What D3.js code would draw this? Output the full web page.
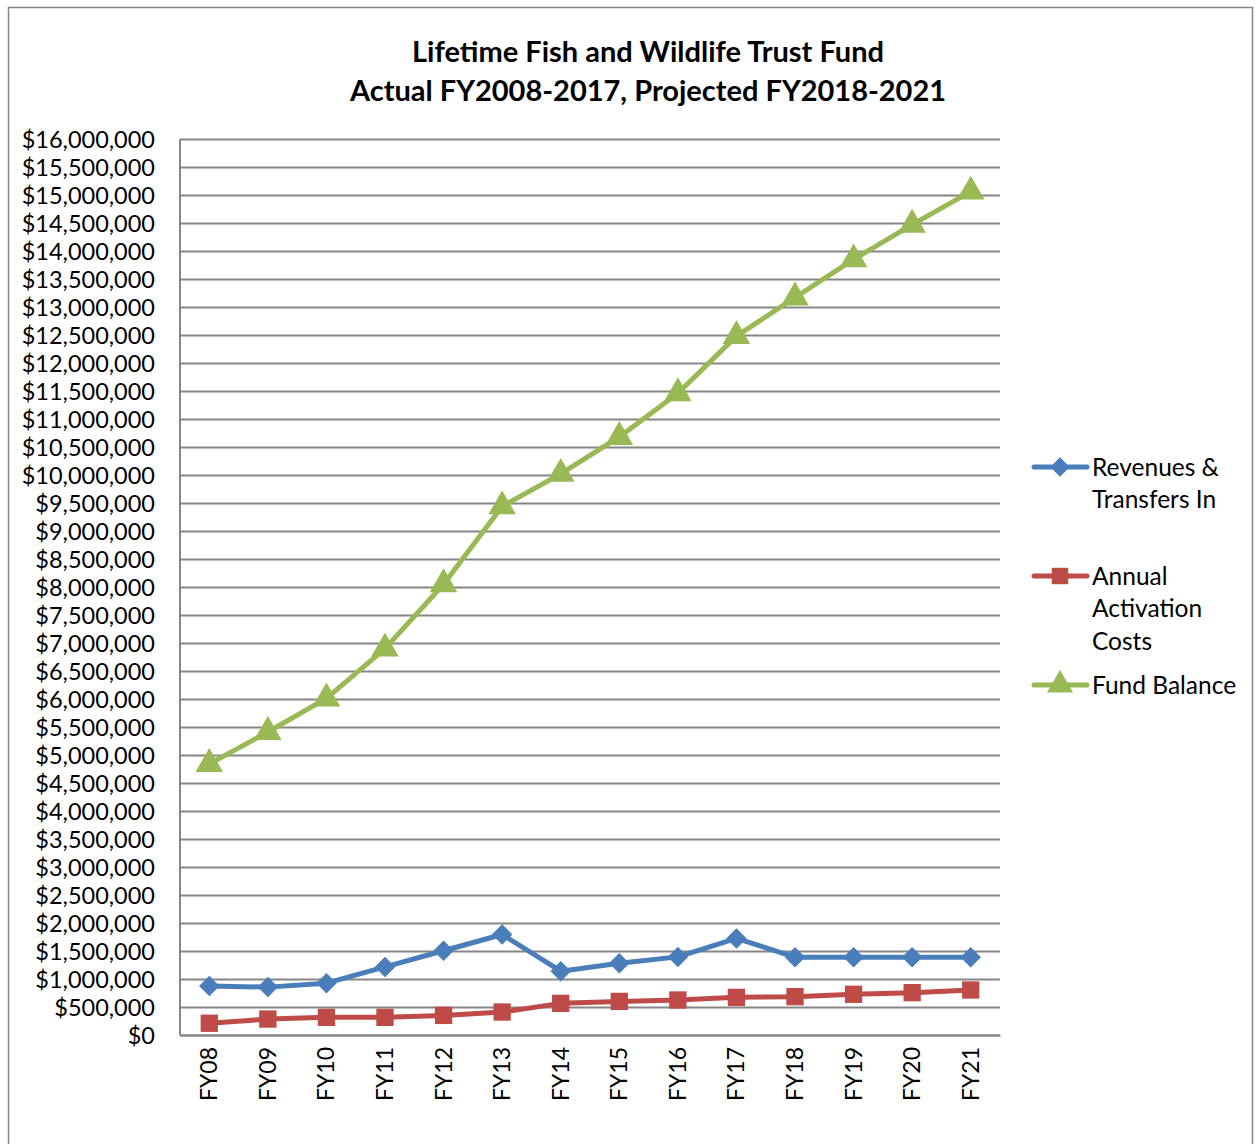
<!DOCTYPE html>
<html>
<head>
<meta charset="utf-8">
<script src="https://cdn.jsdelivr.net/npm/d3@7"></script>
<style>
  body { margin: 0; background: #fff; }
  text { font-family: Lato, "Open Sans", sans-serif; fill: #000; }
</style>
</head>
<body>
<div id="chart"></div>
<script>
// data
var years = ["FY08","FY09","FY10","FY11","FY12","FY13","FY14","FY15","FY16","FY17","FY18","FY19","FY20","FY21"];
var revenues = [875000, 855000, 925000, 1215000, 1505000, 1795000, 1140000, 1280000, 1395000, 1725000, 1390000, 1390000, 1390000, 1390000];
var activation = [210000, 285000, 315000, 315000, 350000, 410000, 565000, 600000, 625000, 672000, 685000, 727000, 756000, 804000];
var fundBalance = [4840000, 5410000, 6010000, 6900000, 8050000, 9440000, 10020000, 10680000, 11460000, 12480000, 13170000, 13850000, 14470000, 15060000];
var yTicks = d3.range(0, 16000001, 500000);
var seriesNames = [["Revenues &", "Transfers In"], ["Annual", "Activation", "Costs"], ["Fund Balance"]];
var seriesColors = ["#4A7EBB", "#BE4B48", "#98B954"];

var W = 1257, H = 1144;
var margin = {top: 139, left: 180, right: 257, bottom: 109};
var width = W - margin.left - margin.right,
    height = H - margin.top - margin.bottom;

var svg = d3.select("#chart").append("svg")
  .attr("width", W)
  .attr("height", H);

// outer frame
svg.append("rect")
  .attr("x", 8.5).attr("y", 7.5)
  .attr("width", 1244).attr("height", 1150)
  .attr("fill", "none")
  .attr("stroke", "#868686")
  .attr("stroke-width", 1.5);

svg.append("text")
  .attr("x", 648).attr("y", 62)
  .attr("text-anchor", "middle")
  .style("font-size", "29px").style("font-weight", "bold")
  .text("Lifetime Fish and Wildlife Trust Fund");
svg.append("text")
  .attr("x", 648).attr("y", 101)
  .attr("text-anchor", "middle")
  .style("font-size", "29px").style("font-weight", "bold")
  .text("Actual FY2008-2017, Projected FY2018-2021");

var g = svg.append("g")
  .attr("transform", "translate(" + margin.left + "," + margin.top + ")");

var xScale = d3.scaleBand().domain(years).range([0, width]);
var yScale = d3.scaleLinear().domain([0, 16000000]).range([height, 0]);

var fmt = d3.format("$,");

// gridlines + y labels
var yAxis = d3.axisLeft(yScale)
  .tickValues(yTicks)
  .tickSize(-width)
  .tickPadding(25)
  .tickFormat(function(d) { return fmt(d); });

var ya = g.append("g").attr("class", "y axis").call(yAxis);
ya.select(".domain").remove();
ya.selectAll(".tick line").attr("stroke", "#868686").attr("stroke-width", 2);
ya.selectAll(".tick text").style("font-size", "23.5px").attr("dy", "0.35em");

g.append("line")
  .attr("x1", 0).attr("x2", 0).attr("y1", 0).attr("y2", height)
  .attr("stroke", "#868686").attr("stroke-width", 2);

var xAxis = d3.axisBottom(xScale).tickSize(0).tickPadding(0);
var xa = g.append("g").attr("class", "x axis")
  .attr("transform", "translate(0," + height + ")")
  .call(xAxis);
xa.select(".domain").attr("stroke", "#868686").attr("stroke-width", 2);
xa.selectAll(".tick text")
  .style("font-size", "23px")
  .attr("text-anchor", "end")
  .attr("transform", "rotate(-90)")
  .attr("x", -12).attr("y", 0).attr("dy", "0.35em");

var allSeries = [revenues, activation, fundBalance];
// diamond = square turned 45 degrees
var shapes = [d3.symbolSquare, d3.symbolSquare, d3.symbolTriangle];
var rotate = [45, 0, 0];
var sizes = [210, 300, 330];

var line = d3.line()
  .x(function(d, i) { return xScale(years[i]) + xScale.bandwidth() / 2; })
  .y(function(d) { return yScale(d); });

allSeries.forEach(function(vals, s) {
  g.append("path")
    .datum(vals)
    .attr("fill", "none")
    .attr("stroke", seriesColors[s])
    .attr("stroke-width", 5)
    .attr("stroke-linejoin", "round")
    .attr("d", line);

  g.selectAll(".mk" + s)
    .data(vals)
    .enter().append("path")
    .attr("class", "mk" + s)
    .attr("transform", function(d, i) {
      return "translate(" + (xScale(years[i]) + xScale.bandwidth() / 2) + "," + yScale(d) + ") rotate(" + rotate[s] + ")";
    })
    .attr("d", d3.symbol().type(shapes[s]).size(sizes[s]))
    .attr("fill", seriesColors[s]);
});

// legend
var legendY = [467, 576, 685];
var legend = svg.append("g");
seriesNames.forEach(function(lines, s) {
  var lg = legend.append("g").attr("transform", "translate(0," + legendY[s] + ")");
  lg.append("line")
    .attr("x1", 1034).attr("x2", 1087).attr("y1", 0).attr("y2", 0)
    .attr("stroke", seriesColors[s]).attr("stroke-width", 5)
    .attr("stroke-linecap", "round");
  lg.append("path")
    .attr("transform", "translate(1060,0) rotate(" + rotate[s] + ")")
    .attr("d", d3.symbol().type(shapes[s]).size(sizes[s] * 0.9))
    .attr("fill", seriesColors[s]);
  lines.forEach(function(t, k) {
    lg.append("text")
      .attr("x", 1092).attr("y", k * 32.5)
      .attr("dy", "0.35em")
      .style("font-size", "24.5px")
      .text(t);
  });
});
</script>
</body>
</html>
